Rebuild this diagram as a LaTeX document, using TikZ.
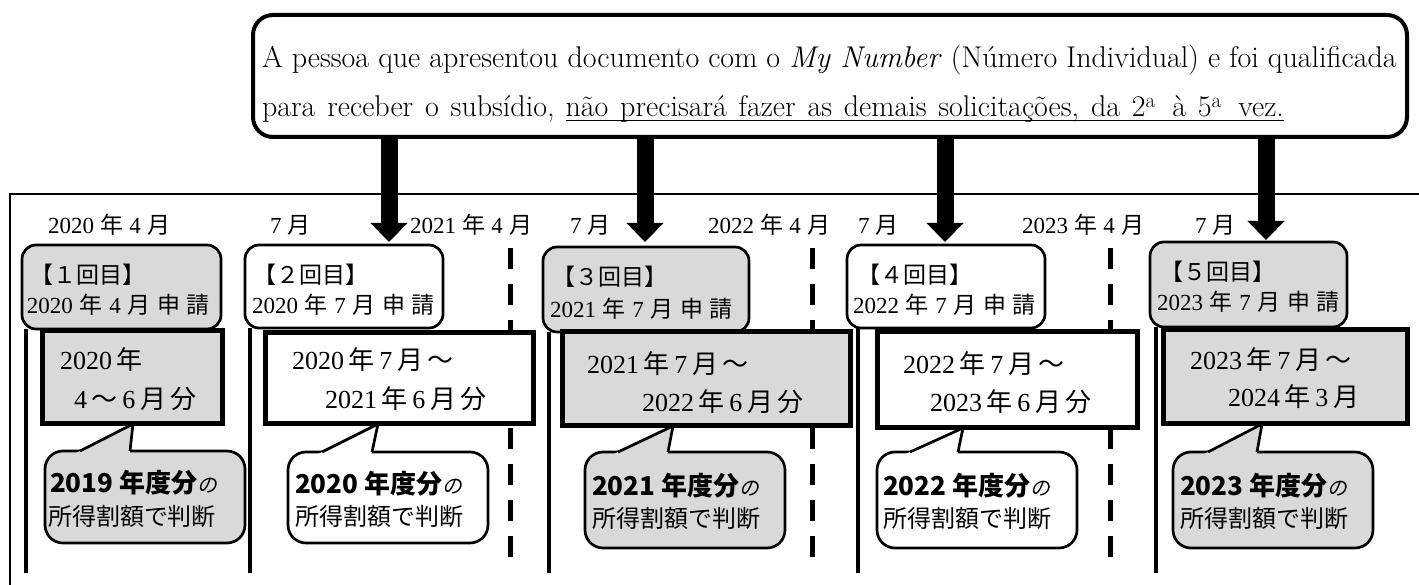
\documentclass[tikz,border=0pt]{standalone}
\usepackage{graphicx}
\usepackage{fontspec}
\newfontfamily\cjk{Noto Sans CJK JP}
\newfontfamily\cjkslant{Noto Sans CJK JP}[FakeSlant=0.2]
\newfontfamily\digfont{Liberation Serif}
\usetikzlibrary{fit,arrows.meta,calc}
\definecolor{boxgray}{HTML}{D9D9D9}
\def\digscale{1}
\def\gapw{0.25em}
\newcommand\D[1]{\scalebox{\digscale}{\digfont #1}}
\newcommand\g{\hspace{\gapw}}
\newcommand\wsp{\spaceskip=11.8pt plus 2pt minus 1pt\relax}
\begin{document}
\begin{tikzpicture}[x=1pt,y=-1pt,
  every node/.style={inner sep=0pt, outer sep=0pt},
  callout/.style={draw, line width=4pt, rounded corners=20pt, fill=white},
  appbox/.style={draw, line width=2.7pt, rounded corners=14pt},
  perbox/.style={draw, line width=5pt},
  bubble/.style={draw, line width=2.7pt, rounded corners=18pt},
  ptr/.style={line width=2.7pt, line join=miter},
  frameline/.style={line width=2pt},
  vline/.style={line width=4pt},
  dline/.style={line width=5pt, dash pattern=on 21pt off 15pt},
  bigarrow/.style={line width=17pt, -{Triangle[length=19pt,width=36pt]}},
  txt/.style={anchor=base west, font=\fontsize{30}{30}\selectfont},
  lbl/.style={anchor=base west, font=\cjk\fontsize{23}{23}\selectfont\def\gapw{0.27em}},
  atxt/.style={anchor=base west, font=\cjk\fontsize{23}{23}\selectfont\def\gapw{0.29em}},
  ptxt/.style={anchor=base west, font=\cjk\fontsize{26}{26}\selectfont\def\gapw{0.18em}},
  btxtA/.style={anchor=base west, font=\cjk\fontsize{26}{26}\selectfont},
  btxtB/.style={anchor=base west, font=\cjk\fontsize{24}{24}\selectfont},
]
\useasboundingbox (0,0) rectangle (1419,585);

% frame
\draw[frameline] (1425,194) -- (10,194) -- (10,590);

% dashed year boundaries
\draw[dline] (510,248) -- (510,567);
\draw[dline] (812,248) -- (812,567);
\draw[dline] (1110,248) -- (1110,567);

% solid timeline lines
\draw[vline] (26,329) -- (26,573);
\draw[vline] (250,328) -- (250,573);
\draw[vline] (549,332) -- (549,573);
\draw[vline] (858,328) -- (858,573);
\draw[vline] (1156,327) -- (1156,573);

% application boxes
\node[appbox, fill=boxgray, fit={(22,245) (221,329)}] (a1) {};
\node[appbox, fill=white, fit={(245,245) (443,328)}] (a2) {};
\node[appbox, fill=boxgray, fit={(543,247) (749,332)}] (a3) {};
\node[appbox, fill=white, fit={(847,245) (1045,328)}] (a4) {};
\node[appbox, fill=boxgray, fit={(1150,242) (1347,327)}] (a5) {};

% period boxes
\node[perbox, fill=boxgray, fit={(42,331) (222,423)}] (p1) {};
\node[perbox, fill=white, fit={(265,333) (533,423)}] (p2) {};
\node[perbox, fill=boxgray, fit={(562,332) (850,425)}] (p3) {};
\node[perbox, fill=white, fit={(877,332) (1137,427)}] (p4) {};
\node[perbox, fill=boxgray, fit={(1163,330) (1407,423)}] (p5) {};

% bubbles
\node[bubble, fill=boxgray, fit={(45,451) (245,543)}] (b1) {};
\node[bubble, fill=white, fit={(288,452) (488,543)}] (b2) {};
\node[bubble, fill=boxgray, fit={(585,452) (785,548)}] (b3) {};
\node[bubble, fill=white, fit={(877,452) (1077,548)}] (b4) {};
\node[bubble, fill=boxgray, fit={(1173,452) (1373,548)}] (b5) {};

% pointer coordinates
\coordinate (l1) at (80,451);  \coordinate (r1) at (130,451);  \coordinate (q1) at (133,424);
\coordinate (l2) at (322,452); \coordinate (r2) at (372,452);  \coordinate (q2) at (378,424);
\coordinate (l3) at (618,452); \coordinate (r3) at (668,452);  \coordinate (q3) at (673,426);
\coordinate (l4) at (910,452); \coordinate (r4) at (958,452);  \coordinate (q4) at (963,428);
\coordinate (l5) at (1208,452);\coordinate (r5) at (1257,452); \coordinate (q5) at (1262,424);
\foreach \i/\c in {1/boxgray,2/white,3/boxgray,4/white,5/boxgray}{
  \fill[\c] ($(l\i)!-0.12!(q\i)$) -- (q\i) -- ($(r\i)!-0.12!(q\i)$) -- cycle;
  \draw[ptr] (l\i) -- (q\i) -- (r\i);
}

% callout
\node[callout, fit={(253,15) (1407,137)}] (co) {};
\node[txt] (t1) at (262,68) {A pessoa que apresentou documento com o \textit{My Number} (Número Individual) e foi qualificada};
\node[txt] (t2a) at (262,117) {\wsp para receber o subsídio,};
\node[txt, anchor=base west] (t2b) at ([xshift=11pt]t2a.base east) {\wsp não precisará fazer as demais solicitações, da 2\textsuperscript{a}\hspace{0.55em}à 5\textsuperscript{a}\hspace{0.55em}vez.};
\draw[line width=1.5pt] ([yshift=-3.5pt]t2b.base west) -- ([yshift=-3.5pt]t2b.base east);

% arrows
\coordinate (h1) at (389,242);
\coordinate (h2) at (645,242);
\coordinate (h3) at (945,242);
\coordinate (h4) at (1266,240);
\foreach \i in {1,2,3,4}{
  \draw[bigarrow] (co.south -| h\i) -- (h\i);
}

% top labels
\node[lbl] (m1) at (48,234) {\D{2020}\g 年\g\D{4}\g 月};
\node[lbl] (m2) at (270,234) {\D{7}\g 月};
\node[lbl] (m3) at (410,234) {\D{2021}\g 年\g\D{4}\g 月};
\node[lbl] (m4) at (570,234) {\D{7}\g 月};
\node[lbl] (m5) at (708,234) {\D{2022}\g 年\g\D{4}\g 月};
\node[lbl] (m6) at (858,234) {\D{7}\g 月};
\node[lbl] (m7) at (1022,234) {\D{2023}\g 年\g\D{4}\g 月};
\node[lbl] (m8) at (1195,234) {\D{7}\g 月};

% application box texts
\node[atxt] (a1t) at (30,284) {【１回目】};
\node[atxt] (a1u) at (27,314) {\D{2020}\g 年\g\D{4}\g 月\g 申\g 請};
\node[atxt] (a2t) at (253,284) {【２回目】};
\node[atxt] (a2u) at (252,314) {\D{2020}\g 年\g\D{7}\g 月\g 申\g 請};
\node[atxt] (a3t) at (552,286) {【３回目】};
\node[atxt] (a3u) at (550,317) {\D{2021}\g 年\g\D{7}\g 月\g 申\g 請};
\node[atxt] (a4t) at (857,284) {【４回目】};
\node[atxt] (a4u) at (853,314) {\D{2022}\g 年\g\D{7}\g 月\g 申\g 請};
\node[atxt] (a5t) at (1160,281) {【５回目】};
\node[atxt] (a5u) at (1157,311) {\D{2023}\g 年\g\D{7}\g 月\g 申\g 請};

% period texts
\node[ptxt] (p1t) at (60,370) {\D{2020}\g 年};
\node[ptxt] (p1u) at (74,408) {\D{4}\g～\g\D{6}\g 月\g 分};
\node[ptxt] (p2t) at (292,370) {\D{2020}\g 年\g\D{7}\g 月\g～};
\node[ptxt] (p2u) at (325,408) {\D{2021}\g 年\g\D{6}\g 月\g 分};
\node[ptxt] (p3t) at (587,373) {\D{2021}\g 年\g\D{7}\g 月\g～};
\node[ptxt] (p3u) at (642,411) {\D{2022}\g 年\g\D{6}\g 月\g 分};
\node[ptxt] (p4t) at (903,373) {\D{2022}\g 年\g\D{7}\g 月\g～};
\node[ptxt] (p4u) at (930,411) {\D{2023}\g 年\g\D{6}\g 月\g 分};
\node[ptxt] (p5t) at (1190,370) {\D{2023}\g 年\g\D{7}\g 月\g～};
\node[ptxt] (p5u) at (1228,406) {\D{2024}\g 年\g\D{3}\g 月};

% bubble texts
\node[btxtA] (b1a) at (50,492) {\bfseries 2019 年度分{\mdseries\cjkslant\fontsize{20}{20}\selectfont の}};
\node[btxtB] (b1b) at (48,525) {所得割額で判断};
\node[btxtA] (b2a) at (295,493) {\bfseries 2020 年度分{\mdseries\cjkslant\fontsize{20}{20}\selectfont の}};
\node[btxtB] (b2b) at (295,525) {所得割額で判断};
\node[btxtA] (b3a) at (592,495) {\bfseries 2021 年度分{\mdseries\cjkslant\fontsize{20}{20}\selectfont の}};
\node[btxtB] (b3b) at (592,527) {所得割額で判断};
\node[btxtA] (b4a) at (883,495) {\bfseries 2022 年度分{\mdseries\cjkslant\fontsize{20}{20}\selectfont の}};
\node[btxtB] (b4b) at (883,527) {所得割額で判断};
\node[btxtA] (b5a) at (1180,495) {\bfseries 2023 年度分{\mdseries\cjkslant\fontsize{20}{20}\selectfont の}};
\node[btxtB] (b5b) at (1180,527) {所得割額で判断};
\end{tikzpicture}
\end{document}
